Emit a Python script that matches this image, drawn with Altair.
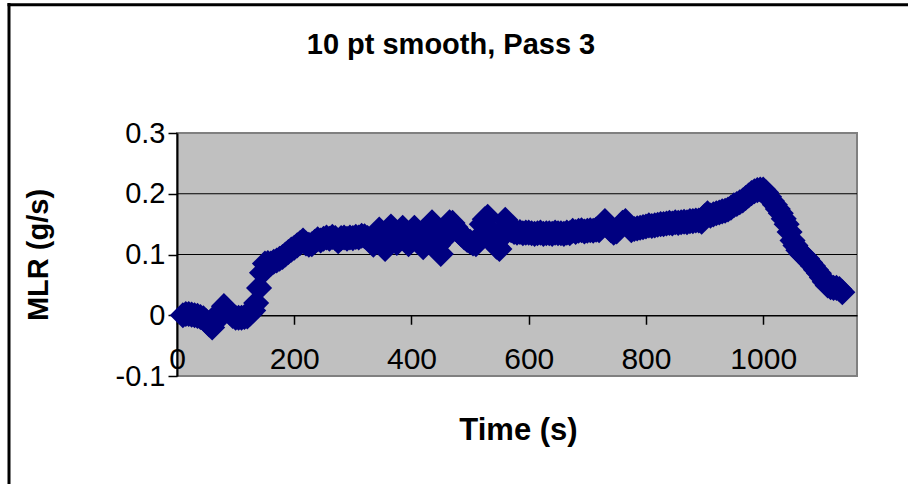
import altair as alt
import pandas as pd

# Labels
chart_title = "10 pt smooth, Pass 3"
x_title = "Time (s)"
y_title = "MLR (g/s)"

# Smoothed mass loss rate, one reading every 5 s starting at t = 10 s
time_s = list(range(10, 1140, 5))
mlr_gs = [
    0.000, 0.002, 0.002, 0.001, 0.000, -0.001, -0.003, -0.005,
    -0.010, -0.015, -0.020, -0.011, -0.002, 0.007, 0.015, 0.010, 0.004, -0.001,
    -0.004, -0.004, -0.004, -0.003, -0.002, 0.003, 0.008, 0.020, 0.045, 0.070,
    0.085, 0.086, 0.085, 0.088, 0.090, 0.093, 0.096, 0.100, 0.104, 0.108,
    0.111, 0.115, 0.119, 0.123, 0.118, 0.116, 0.117, 0.121, 0.125, 0.123,
    0.126, 0.128, 0.126, 0.129, 0.127, 0.122, 0.127, 0.128, 0.126, 0.128,
    0.127, 0.129, 0.128, 0.131, 0.130, 0.127, 0.122, 0.116, 0.130, 0.141,
    0.122, 0.109, 0.128, 0.146, 0.128, 0.119, 0.132, 0.144, 0.128, 0.117,
    0.131, 0.144, 0.128, 0.118, 0.112, 0.125, 0.140, 0.153, 0.135, 0.115,
    0.101, 0.125, 0.140, 0.153, 0.152, 0.145, 0.138, 0.133, 0.128, 0.124,
    0.121, 0.118, 0.117, 0.128, 0.150, 0.158, 0.162, 0.140, 0.125, 0.113,
    0.109, 0.130, 0.157, 0.148, 0.140, 0.137, 0.136, 0.137, 0.135, 0.136,
    0.136, 0.135, 0.134, 0.135, 0.136, 0.134, 0.135, 0.135, 0.134, 0.136,
    0.135, 0.135, 0.134, 0.136, 0.135, 0.139, 0.137, 0.139, 0.140, 0.138,
    0.139, 0.140, 0.139, 0.141, 0.140, 0.146, 0.155, 0.148, 0.140, 0.136,
    0.138, 0.145, 0.152, 0.155, 0.147, 0.140, 0.142, 0.143, 0.144, 0.145,
    0.146, 0.148, 0.147, 0.148, 0.149, 0.150, 0.150, 0.151, 0.152, 0.151,
    0.153, 0.152, 0.153, 0.154, 0.153, 0.155, 0.155, 0.156, 0.156, 0.154,
    0.163, 0.168, 0.164, 0.166, 0.168, 0.169, 0.171, 0.172, 0.174, 0.177,
    0.181, 0.183, 0.186, 0.189, 0.193, 0.197, 0.201, 0.204, 0.206, 0.207,
    0.207, 0.202, 0.195, 0.188, 0.182, 0.175, 0.168, 0.159, 0.150, 0.137,
    0.123, 0.115, 0.107, 0.101, 0.097, 0.093, 0.087, 0.081, 0.075, 0.069,
    0.062, 0.055, 0.049, 0.046, 0.045, 0.045, 0.043, 0.038,
]

x_ticks = [0, 200, 400, 600, 800, 1000]
y_ticks = [-0.1, 0.0, 0.1, 0.2, 0.3]
grid_levels = [0.1, 0.2]

FONT = "Liberation Sans"
W, H = 680, 243
NAVY = "#000080"

df = pd.DataFrame({"time": time_s, "mlr": mlr_gs})

x_scale = alt.Scale(domain=[0, 1160], nice=False, zero=False)
y_scale = alt.Scale(domain=[-0.1, 0.3], nice=False, zero=False)

x_axis = alt.Axis(
    values=x_ticks, format="d", offset=-H / 4, grid=False,
    title=x_title, titleFont=FONT, titleFontSize=31, titleFontWeight="bold",
    titleColor="black", titleX=341, titleY=115, titleAlign="center",
    titleBaseline="middle",
    labelFont=FONT, labelFontSize=30, labelColor="black", labelPadding=20,
    labelFlush=False, labelOverlap=False,
    tickSize=9, tickColor="black", tickWidth=1.5,
    domainColor="black", domainWidth=1.5,
)

y_axis = alt.Axis(
    values=y_ticks, grid=False,
    labelExpr=("datum.value < -0.001 ? '-' + format(abs(datum.value), '.1f') : "
               "(abs(datum.value) < 0.001 ? '0' : format(datum.value, '.1f'))"),
    title=y_title, titleFont=FONT, titleFontSize=29, titleFontWeight="bold",
    titleColor="black", titleAngle=270, titleX=-139, titleY=121.5,
    titleAlign="center", titleBaseline="middle",
    labelFont=FONT, labelFontSize=29, labelColor="black", labelPadding=3,
    labelFlush=False, labelOverlap=False,
    tickSize=9, tickColor="black", tickWidth=1.5,
    domainColor="black", domainWidth=2,
)

# Horizontal gridlines inside the plot area
grid = alt.Chart(pd.DataFrame({"mlr": grid_levels})).mark_rule(
    color="black", strokeWidth=1
).encode(y=alt.Y("mlr:Q", scale=y_scale, axis=y_axis))

# Diamond markers for every reading
points = alt.Chart(df).mark_point(
    shape="diamond", filled=True, size=680, color=NAVY, opacity=1
).encode(
    x=alt.X("time:Q", scale=x_scale, axis=x_axis),
    y=alt.Y("mlr:Q", scale=y_scale, axis=y_axis),
)

label_df = pd.DataFrame({"label": [chart_title]})

# Chart heading
heading = alt.Chart(label_df).mark_text(
    font=FONT, fontSize=29, fontWeight="bold", color="black",
    align="center", baseline="middle"
).encode(x=alt.value(274), y=alt.value(-88), text="label:N")

# Outer frame (left and top edges)
frame_left = alt.Chart(label_df).mark_rule(color="black", strokeWidth=3).encode(
    x=alt.value(-168), y=alt.value(-130), y2=alt.value(360)
)
frame_top = alt.Chart(label_df).mark_rule(color="black", strokeWidth=3).encode(
    x=alt.value(-169.5), x2=alt.value(740), y=alt.value(-128.3)
)

chart = (
    alt.layer(grid, points, heading, frame_left, frame_top)
    .properties(
        width=W, height=H,
        autosize=alt.AutoSizeParams(type="none"),
        padding={"left": 177, "top": 133, "right": 51, "bottom": 108},
        background="white",
    )
    .configure_view(fill="#C0C0C0", stroke="#808080", strokeWidth=2)
)

chart.save("out.html", embed_options={"renderer": "svg", "actions": False})
